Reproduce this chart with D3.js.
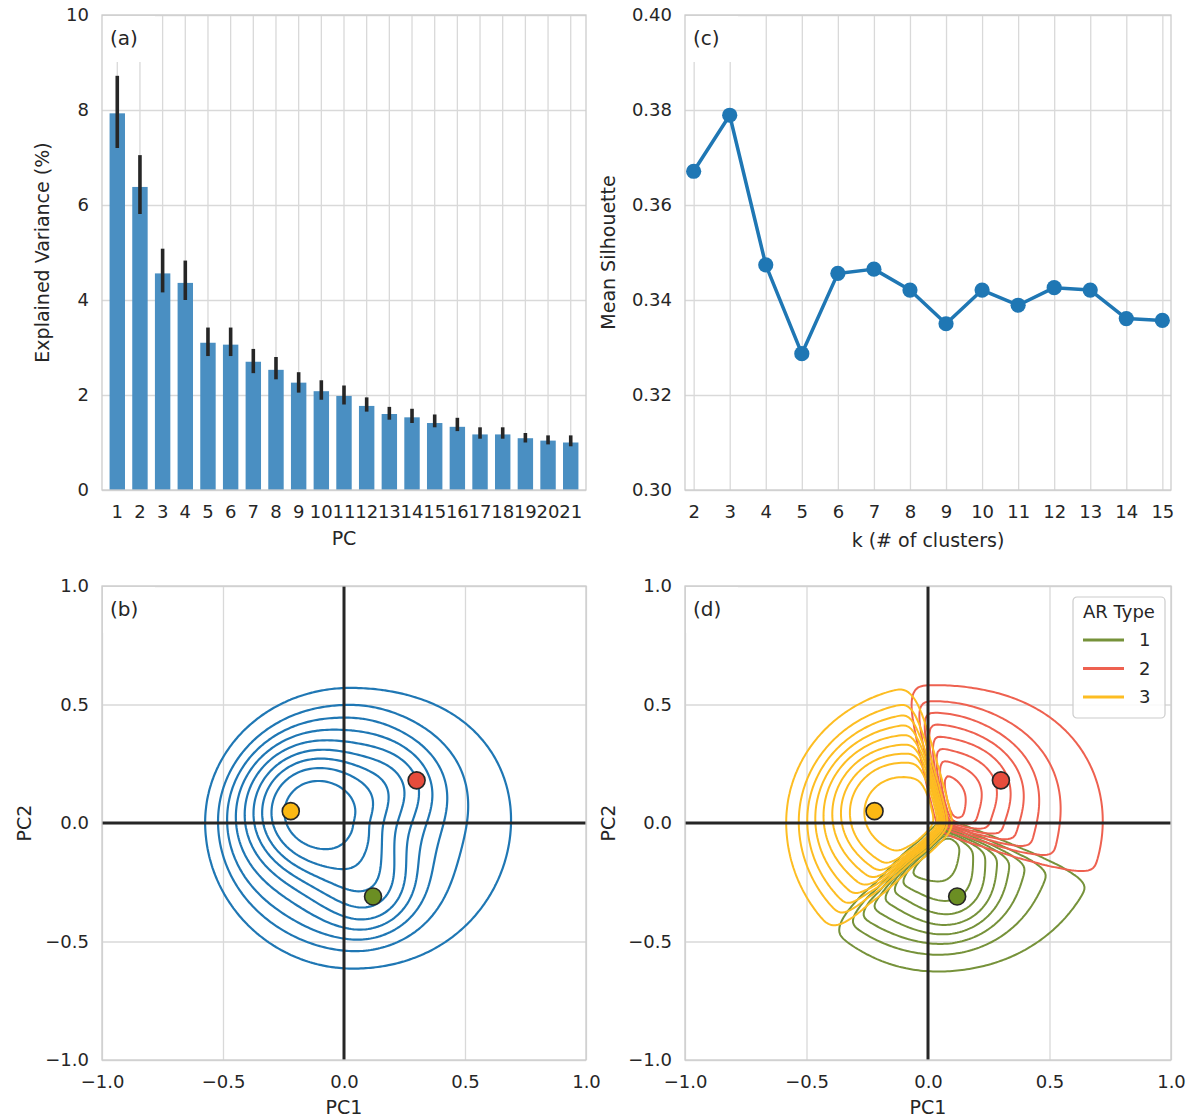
<!DOCTYPE html>
<html>
<head>
<meta charset="utf-8">
<script src="https://cdn.jsdelivr.net/npm/d3@7"></script>
<style>
  body { margin: 0; background: #fff; }
  svg { display: block; font-family: "DejaVu Sans", sans-serif; }
</style>
</head>
<body>
<svg id="chart" width="1194" height="1120"></svg>
<script>
// ---- (a) explained variance per principal component ----
const pcs = [1, 2, 3, 4, 5, 6, 7, 8, 9, 10, 11, 12, 13, 14, 15, 16, 17, 18, 19, 20, 21];
const varMean = [7.93, 6.38, 4.56, 4.36, 3.10, 3.06, 2.70, 2.53, 2.26, 2.08, 1.98, 1.77, 1.60, 1.53, 1.41, 1.33, 1.17, 1.17, 1.09, 1.04, 1.00];
const varLow  = [7.20, 5.81, 4.16, 4.00, 2.82, 2.82, 2.46, 2.33, 2.05, 1.90, 1.80, 1.65, 1.48, 1.41, 1.32, 1.24, 1.08, 1.08, 1.00, 0.96, 0.92];
const varHigh = [8.72, 7.05, 5.08, 4.83, 3.42, 3.42, 2.97, 2.80, 2.48, 2.31, 2.20, 1.95, 1.75, 1.71, 1.59, 1.52, 1.32, 1.32, 1.20, 1.15, 1.15];
const varTicks = [0, 2, 4, 6, 8, 10];

// ---- (c) mean silhouette vs number of clusters ----
const kValues = [2, 3, 4, 5, 6, 7, 8, 9, 10, 11, 12, 13, 14, 15];
const silhouette = [0.3671, 0.3789, 0.3474, 0.3287, 0.3456, 0.3465, 0.3421, 0.3350, 0.3421, 0.3389, 0.3426, 0.3421, 0.3361, 0.3357];
const silTicks = [0.30, 0.32, 0.34, 0.36, 0.38, 0.40];

// ---- (b)/(d) PC1-PC2 density and cluster centroids ----
const pcTicks = [-1, -0.5, 0, 0.5, 1];
const arTypes = ['1', '2', '3'];
const centroidPC1 = [0.12, 0.30, -0.22];
const centroidPC2 = [-0.31, 0.18, 0.05];
const arColors = ['#6b8e23', '#e74c3c', '#fbb814'];
const lineColors = ['#76923a', '#ee6150', '#fdbd22'];

// gaussian components describing the sample density in PC space
const compX  = [0.00, -0.13, 0.30, 0.12];
const compY  = [0.00, 0.05, 0.17, -0.30];
const compSx = [0.70, 0.19, 0.17, 0.17];
const compSy = [0.70, 0.19, 0.17, 0.16];
const compW  = [1.00, 0.075, 0.022, 0.024];
// soft boundary of the sampled region: [right, top, left, bottom]
const supportCenter = [0.03, 0.00];
const supportRadius = [0.56, 0.53, 0.57, 0.57];
const supportEdge   = [0.14, 0.04, 0.03, 0.045];
const isoLevels = [0.05, 0.156, 0.261, 0.367, 0.472, 0.578, 0.683, 0.789, 0.894, 1.0];

const TICK_FONT = 18, LABEL_FONT = 19;
const INK = '#262626', GRID = '#d9d9d9', BLUE = '#1f77b4';

const frames = {
  a: { x0: 102, x1: 586, y0: 15, y1: 490 },
  c: { x0: 685, x1: 1171, y0: 15, y1: 490 },
  b: { x0: 102, x1: 586, y0: 586, y1: 1060 },
  d: { x0: 685, x1: 1171, y0: 586, y1: 1060 }
};

const svg = d3.select('#chart');

function styleAxis(g) {
  g.attr('font-size', TICK_FONT).attr('font-family', '"DejaVu Sans", sans-serif').attr('color', INK);
  g.select('.domain').remove();
  g.selectAll('line').remove();
}

function grid(f, x, y, xv, yv) {
  const g = svg.append('g');
  g.append('g')
    .attr('transform', `translate(0,${f.y1})`)
    .call(d3.axisBottom(x).tickValues(xv).tickSize(-(f.y1 - f.y0)).tickFormat(''))
    .call(s => s.select('.domain').remove())
    .selectAll('line').attr('stroke', GRID).attr('stroke-width', 1.3);
  g.append('g')
    .attr('transform', `translate(${f.x0},0)`)
    .call(d3.axisLeft(y).tickValues(yv).tickSize(-(f.x1 - f.x0)).tickFormat(''))
    .call(s => s.select('.domain').remove())
    .selectAll('line').attr('stroke', GRID).attr('stroke-width', 1.3);
}

function axes(f, x, y, xv, yv, xfmt, yfmt) {
  svg.append('g')
    .attr('transform', `translate(0,${f.y1})`)
    .call(d3.axisBottom(x).tickValues(xv).tickSize(0).tickPadding(15).tickFormat(xfmt))
    .call(styleAxis);
  svg.append('g')
    .attr('transform', `translate(${f.x0},0)`)
    .call(d3.axisLeft(y).tickValues(yv).tickSize(0).tickPadding(13).tickFormat(yfmt))
    .call(styleAxis);
}

function frame(f) {
  svg.append('rect')
    .attr('x', f.x0).attr('y', f.y0)
    .attr('width', f.x1 - f.x0).attr('height', f.y1 - f.y0)
    .attr('fill', 'none').attr('stroke', '#cccccc').attr('stroke-width', 1.3);
}

function panelTag(f, txt) {
  svg.append('rect')
    .attr('x', f.x0 + 1).attr('y', f.y0 + 1)
    .attr('width', 52).attr('height', 46).attr('fill', '#fff');
  svg.append('text')
    .attr('x', f.x0 + 8).attr('y', f.y0 + 30)
    .attr('font-size', 20).attr('fill', INK)
    .text(txt);
}

function label(x, y, txt, rotate) {
  svg.append('text')
    .attr('transform', `translate(${x},${y})` + (rotate ? ' rotate(-90)' : ''))
    .attr('text-anchor', 'middle').attr('dy', '0.35em')
    .attr('font-size', LABEL_FONT).attr('fill', INK)
    .text(txt);
}

// ================= (a) =================
{
  const f = frames.a;
  const x = d3.scaleBand().domain(pcs).range([f.x0, f.x1]).paddingInner(0.32).paddingOuter(0.334);
  const y = d3.scaleLinear().domain([0, 10]).range([f.y1, f.y0]);
  grid(f, x, y, pcs, varTicks);
  panelTag(f, '(a)');

  svg.append('g').selectAll('rect')
    .data(pcs)
    .join('rect')
    .attr('x', d => x(d))
    .attr('width', x.bandwidth())
    .attr('y', (d, i) => y(varMean[i]))
    .attr('height', (d, i) => y(0) - y(varMean[i]))
    .attr('fill', '#4a8fc2');

  svg.append('g').selectAll('line')
    .data(pcs)
    .join('line')
    .attr('x1', d => x(d) + x.bandwidth() / 2)
    .attr('x2', d => x(d) + x.bandwidth() / 2)
    .attr('y1', (d, i) => y(varLow[i]))
    .attr('y2', (d, i) => y(varHigh[i]))
    .attr('stroke', INK).attr('stroke-width', 3.6);

  frame(f);
  axes(f, x, y, pcs, varTicks, d => d, d3.format('d'));
  label((f.x0 + f.x1) / 2, 538, 'PC');
  label(42, (f.y0 + f.y1) / 2, 'Explained Variance (%)', true);
}

// ================= (c) =================
{
  const f = frames.c;
  const x = d3.scaleLinear().domain([1.76, 15.24]).range([f.x0, f.x1]);
  const y = d3.scaleLinear().domain([0.30, 0.40]).range([f.y1, f.y0]);
  grid(f, x, y, kValues, silTicks);
  panelTag(f, '(c)');

  const line = d3.line().x((d, i) => x(kValues[i])).y(d => y(d));
  svg.append('path')
    .datum(silhouette)
    .attr('d', line)
    .attr('fill', 'none').attr('stroke', BLUE).attr('stroke-width', 3.5)
    .attr('stroke-linejoin', 'round');

  svg.append('g').selectAll('circle')
    .data(silhouette)
    .join('circle')
    .attr('cx', (d, i) => x(kValues[i]))
    .attr('cy', d => y(d))
    .attr('r', 7.6)
    .attr('fill', BLUE);

  frame(f);
  axes(f, x, y, kValues, silTicks, d3.format('d'), d3.format('.2f'));
  label((f.x0 + f.x1) / 2, 540, 'k (# of clusters)');
  label(608, (f.y0 + f.y1) / 2, 'Mean Silhouette', true);
}

// ================= density grids for (b) and (d) =================
const N = 201, STEP = 0.01;
const mixture = new Float64Array(N * N);
const owner = new Uint8Array(N * N);
for (let j = 0; j < N; j++) {
  const gy = 1 - j * STEP;
  for (let i = 0; i < N; i++) {
    const gx = -1 + i * STEP;
    let v = 0;
    for (let c = 0; c < compW.length; c++) {
      const dx = (gx - compX[c]) / compSx[c], dy = (gy - compY[c]) / compSy[c];
      v += compW[c] / (compSx[c] * compSy[c]) * Math.exp(-0.5 * (dx * dx + dy * dy));
    }
    // soft edge of the sampled region, blended between the four directions
    const ex = gx - supportCenter[0], ey = gy - supportCenter[1];
    const r = Math.hypot(ex, ey) || 1e-9;
    const cs = ex / r, sn = ey / r;
    const wts = [Math.max(cs, 0) ** 2, Math.max(sn, 0) ** 2, Math.max(-cs, 0) ** 2, Math.max(-sn, 0) ** 2];
    const R = d3.sum(wts, (w, q) => w * supportRadius[q]);
    const W = d3.sum(wts, (w, q) => w * supportEdge[q]);
    v *= 1 / (1 + Math.exp((r - R) / W));
    mixture[j * N + i] = v;

    let best = 0, bd = Infinity;
    for (let k = 0; k < arTypes.length; k++) {
      const d = (gx - centroidPC1[k]) ** 2 + (gy - centroidPC2[k]) ** 2;
      if (d < bd) { bd = d; best = k; }
    }
    owner[j * N + i] = best;
  }
}

function blur(src, sigma) {
  const r = Math.ceil(sigma * 3);
  let ker = [];
  for (let k = -r; k <= r; k++) ker.push(Math.exp(-k * k / (2 * sigma * sigma)));
  const s = d3.sum(ker);
  ker = ker.map(v => v / s);
  const tmp = new Float64Array(N * N), out = new Float64Array(N * N);
  for (let j = 0; j < N; j++) for (let i = 0; i < N; i++) {
    let v = 0;
    for (let k = -r; k <= r; k++) { const ii = i + k; if (ii >= 0 && ii < N) v += ker[k + r] * src[j * N + ii]; }
    tmp[j * N + i] = v;
  }
  for (let j = 0; j < N; j++) for (let i = 0; i < N; i++) {
    let v = 0;
    for (let k = -r; k <= r; k++) { const jj = j + k; if (jj >= 0 && jj < N) v += ker[k + r] * tmp[jj * N + i]; }
    out[j * N + i] = v;
  }
  return out;
}

const totalGrid = blur(mixture, 2);
const clusterGrids = arTypes.map((t, k) => {
  const g = new Float64Array(N * N);
  for (let p = 0; p < N * N; p++) g[p] = owner[p] === k ? mixture[p] : 0;
  return blur(g, 2.6);
});

// iso-proportion -> density level (as seaborn does)
function isoToDensity(grids, props) {
  const vals = [];
  grids.forEach(g => { for (let p = 0; p < g.length; p++) vals.push(g[p]); });
  vals.sort((a, b) => b - a);
  const total = d3.sum(vals);
  const cum = new Float64Array(vals.length);
  let s = 0;
  for (let p = 0; p < vals.length; p++) { s += vals[p]; cum[p] = s / total; }
  return props.map(q => vals[Math.min(d3.bisectLeft(cum, 1 - q), vals.length - 1)]).slice(0, -1);
}

function gridPath(x, y) {
  return d3.geoPath(d3.geoTransform({
    point(cx, cy) { this.stream.point(x(-1 + (cx - 0.5) * STEP), y(1 - (cy - 0.5) * STEP)); }
  }));
}

function scatterPanel(key, tag, drawContours) {
  const f = frames[key];
  const x = d3.scaleLinear().domain([-1, 1]).range([f.x0, f.x1]);
  const y = d3.scaleLinear().domain([-1, 1]).range([f.y1, f.y0]);
  grid(f, x, y, pcTicks, pcTicks);
  panelTag(f, tag);

  const clipId = 'clip-' + key;
  svg.append('clipPath').attr('id', clipId)
    .append('rect').attr('x', f.x0).attr('y', f.y0).attr('width', f.x1 - f.x0).attr('height', f.y1 - f.y0);
  const plot = svg.append('g').attr('clip-path', `url(#${clipId})`);

  drawContours(plot, gridPath(x, y));

  plot.append('line').attr('x1', x(0)).attr('x2', x(0)).attr('y1', f.y0).attr('y2', f.y1)
    .attr('stroke', INK).attr('stroke-width', 3);
  plot.append('line').attr('x1', f.x0).attr('x2', f.x1).attr('y1', y(0)).attr('y2', y(0))
    .attr('stroke', INK).attr('stroke-width', 3);

  plot.append('g').selectAll('circle')
    .data(arTypes)
    .join('circle')
    .attr('cx', (d, i) => x(centroidPC1[i]))
    .attr('cy', (d, i) => y(centroidPC2[i]))
    .attr('r', 8.5)
    .attr('fill', (d, i) => arColors[i])
    .attr('stroke', INK).attr('stroke-width', 1.6);

  frame(f);
  axes(f, x, y, pcTicks, pcTicks, d3.format('.1f'), d3.format('.1f'));
  label((f.x0 + f.x1) / 2, 1107, 'PC1');
}

// ================= (b) =================
scatterPanel('b', '(b)', (plot, path) => {
  const levels = isoToDensity([totalGrid], isoLevels);
  const contours = d3.contours().size([N, N]).thresholds(levels)(totalGrid);
  plot.append('g').selectAll('path')
    .data(contours)
    .join('path')
    .attr('d', path)
    .attr('fill', 'none').attr('stroke', BLUE).attr('stroke-width', 2.2);
});
label(24, (frames.b.y0 + frames.b.y1) / 2, 'PC2', true);

// ================= (d) =================
scatterPanel('d', '(d)', (plot, path) => {
  const levels = isoToDensity(clusterGrids, isoLevels);
  const gen = d3.contours().size([N, N]).thresholds(levels);
  clusterGrids.forEach((g, k) => {
    plot.append('g').selectAll('path')
      .data(gen(g))
      .join('path')
      .attr('d', path)
      .attr('fill', 'none').attr('stroke', lineColors[k]).attr('stroke-width', 2);
  });
});
label(608, (frames.d.y0 + frames.d.y1) / 2, 'PC2', true);

// legend for (d)
{
  const lg = svg.append('g').attr('transform', 'translate(1073,597)');
  lg.append('rect').attr('width', 92).attr('height', 121).attr('rx', 4)
    .attr('fill', '#fff').attr('fill-opacity', 0.85).attr('stroke', '#cccccc').attr('stroke-width', 1.2);
  lg.append('text').attr('x', 46).attr('y', 21).attr('text-anchor', 'middle')
    .attr('font-size', TICK_FONT).attr('fill', INK).text('AR Type');
  const rows = lg.selectAll('g.row').data(arTypes).join('g')
    .attr('transform', (d, i) => `translate(0,${43 + i * 28.5})`);
  rows.append('line').attr('x1', 10).attr('x2', 51)
    .attr('stroke', (d, i) => lineColors[i]).attr('stroke-width', 3);
  rows.append('text').attr('x', 66).attr('dy', '0.35em')
    .attr('font-size', TICK_FONT).attr('fill', INK).text(d => d);
}
</script>
</body>
</html>
